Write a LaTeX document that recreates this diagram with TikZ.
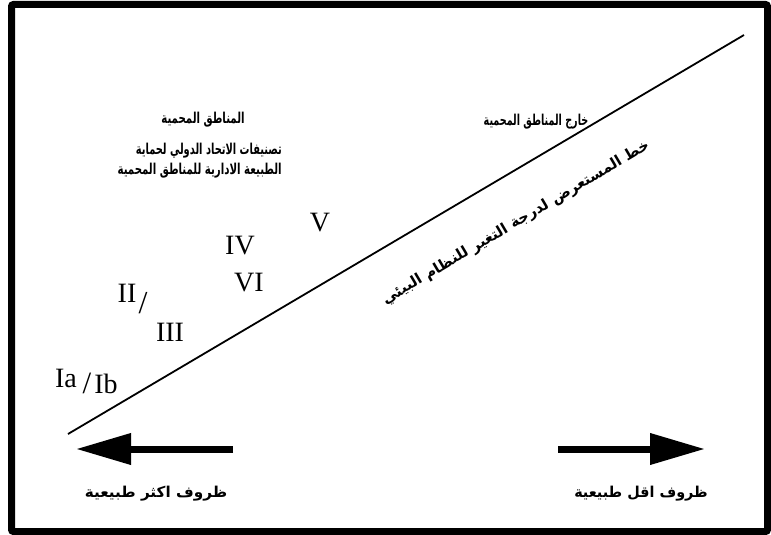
\documentclass[tikz,border=0pt]{standalone}
\usepackage{fontspec}
\usepackage{graphicx}
\setmainfont{Liberation Serif}
\newfontfamily\arabicfont[Script=Arabic]{DejaVu Sans Bold}
\TeXXeTstate=1
\newcommand{\artext}[2]{\scalebox{#1}[1.25]{\arabicfont\fontsize{12}{14}\selectfont #2}}
\usetikzlibrary{arrows.meta}
\begin{document}
\begin{tikzpicture}[x=1pt,y=-1pt,
  artxt/.style={inner sep=0pt},
  roman/.style={font=\fontsize{28}{30}\selectfont, inner sep=0pt},
  bigarrow/.style={line width=7pt, -{Triangle[length=55pt,width=30pt]}}]
\useasboundingbox (0,0) rectangle (771,535);
\fill[white] (0,0) rectangle (771,535);
\draw[line width=7pt, rounded corners=2pt] (11.5,4.5) rectangle (767.5,531.5);
% diagonal line
\coordinate (lo) at (68,434);
\coordinate (hi) at (744,35);
\draw[line width=1.8pt] (lo) -- (hi);
% top labels
\node[artxt] (pa) at (203,120) {\artext{0.85}{\beginR المناطق المحمية\endR}};
\node[artxt] (opa) at (536,122) {\artext{0.8}{\beginR خارج المناطق المحمية\endR}};
\node[artxt, anchor=east] (iucn1) at (282,151) {\artext{0.82}{\beginR تصنيفات الاتحاد الدولي لحماية\endR}};
\node[artxt, anchor=east] (iucn2) at (282,171) {\artext{0.85}{\beginR الطبيعة الادارية للمناطق المحمية\endR}};
% rotated label
\node[artxt, rotate=30.6] (axis) at (516,223) {\artext{1.24}{\beginR خط المستعرض لدرجة التغير للنظام البيئي\endR}};
% roman numerals
\node[roman] (v) at (320,223) {V};
\node[roman] (iv) at (240,246) {IV};
\node[roman] (vi) at (249,283) {VI};
\node[roman] (ii) at (127,293) {II};
\node[roman, font=\fontsize{32}{34}\selectfont] (sl) at (143,303) {/};
\node[roman] (iii) at (170,332) {III};
\node[roman] (ia) at (66,378) {Ia};
\node[roman, font=\fontsize{31}{33}\selectfont] (sl2) at (87,383) {/};
\node[roman] (ib) at (106,384) {Ib};
% arrows
\coordinate (la) at (233,449);
\coordinate (lt) at (76,449);
\coordinate (ra) at (558,449);
\coordinate (rt) at (705,449);
\draw[bigarrow] (la) -- (lt);
\draw[bigarrow] (ra) -- (rt);
% bottom labels
\node[artxt] (more) at (156,494) {\artext{1.27}{\beginR ظروف اكثر طبيعية\endR}};
\node[artxt] (less) at (641,494) {\artext{1.2}{\beginR ظروف اقل طبيعية\endR}};
\end{tikzpicture}
\end{document}
